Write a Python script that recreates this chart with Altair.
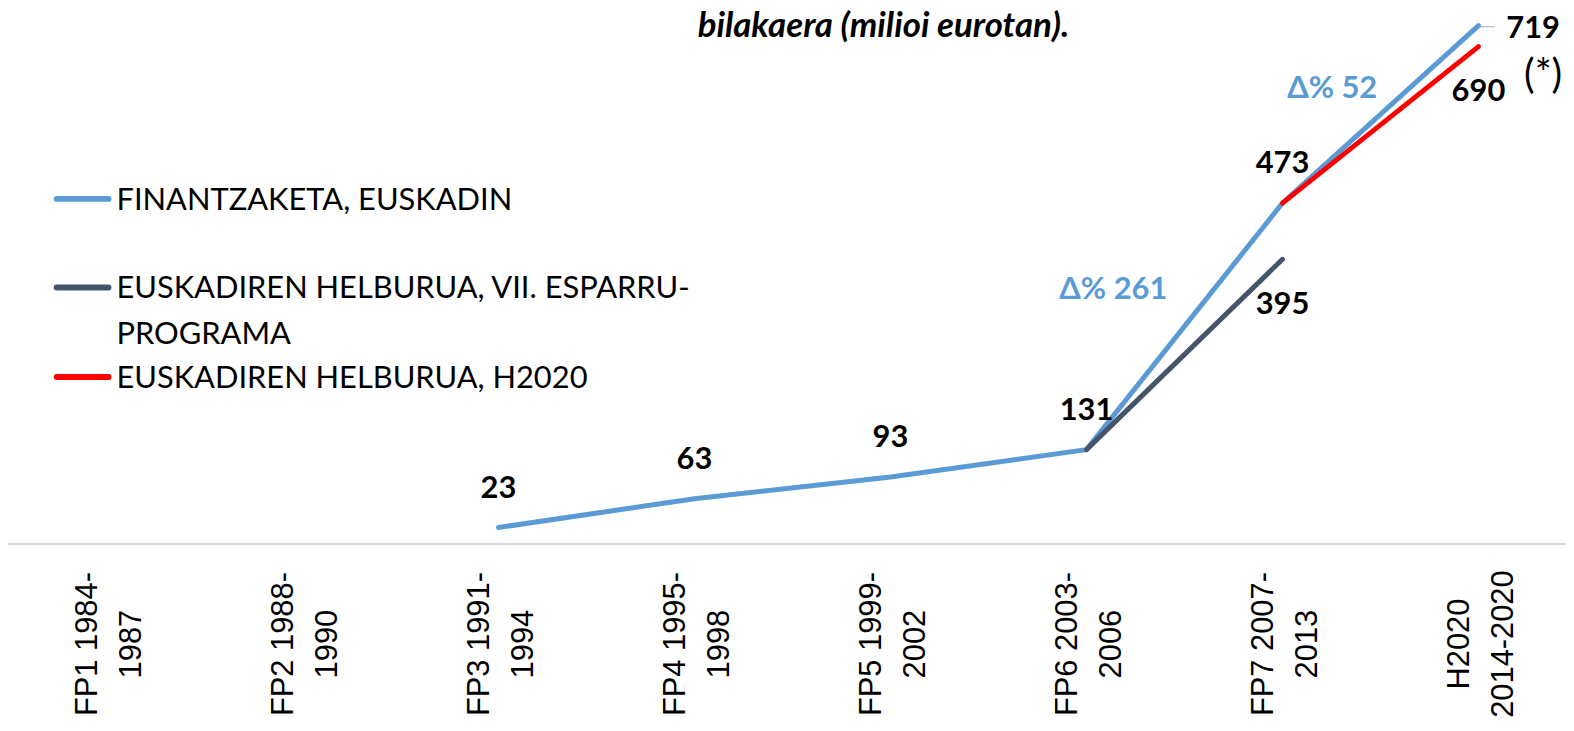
import altair as alt
import pandas as pd

# ---------------- data ----------------
categories = [
    "FP1 1984-|1987",
    "FP2 1988-|1990",
    "FP3 1991-|1994",
    "FP4 1995-|1998",
    "FP5 1999-|2002",
    "FP6 2003-|2006",
    "FP7 2007-|2013",
    "H2020|2014-2020",
]
funding = [None, None, 23, 63, 93, 131, 473, 719]          # FINANTZAKETA, EUSKADIN
target_fp7 = [None, None, None, None, None, 131, 395, None]  # helburua VII. esparru-programa
target_h2020 = [None, None, None, None, None, None, 473, 690]  # helburua H2020

series_names = [
    "FINANTZAKETA, EUSKADIN",
    "EUSKADIREN HELBURUA, VII. ESPARRU-PROGRAMA",
    "EUSKADIREN HELBURUA, H2020",
]
legend_lines = [
    ["FINANTZAKETA, EUSKADIN"],
    ["EUSKADIREN HELBURUA, VII. ESPARRU-", "PROGRAMA"],
    ["EUSKADIREN HELBURUA, H2020"],
]
colors = ["#5B9BD5", "#44546A", "#FF0000"]

title_text = "bilakaera (milioi eurotan)."
delta_labels = ["Δ% 261", "Δ% 52"]
note_text = "(*)"

# ---------------- helpers ----------------
W, H = 1566, 537
xscale = alt.Scale(type="point", domain=categories, range=[99, 1478], padding=0)
yscale = alt.Scale(domain=[0, 741], nice=False, zero=True)

xaxis = alt.Axis(
    title=None, domain=False, ticks=False, tickSize=0, grid=False,
    labelAngle=270, labelAlign="center", labelBaseline="middle",
    labelPadding=100, labelOffset=-19, labelFont="Liberation Sans", labelFontSize=31,
    labelColor="black", labelLineHeight=44, labelOverlap=False,
    labelExpr="split(datum.label, '|')",
)


def X():
    return alt.X("cat:N", sort=categories, scale=xscale, axis=xaxis)


def Y():
    return alt.Y("value:Q", scale=yscale, axis=None)


def series_df(vals, name):
    rows = [
        {"cat": c, "value": v, "idx": i, "series": name}
        for i, (c, v) in enumerate(zip(categories, vals)) if v is not None
    ]
    return pd.DataFrame(rows)


df_fund = series_df(funding, series_names[0])
df_fp7 = series_df(target_fp7, series_names[1])
df_h20 = series_df(target_h2020, series_names[2])

layers = []

# baseline (zero line)
base_df = pd.DataFrame({"value": [0]})
layers.append(
    alt.Chart(base_df).mark_rule(color="#d9d9d9", strokeWidth=2).encode(
        y=Y(), x=alt.value(0), x2=alt.value(W)
    )
)

# lines
for d, col in zip([df_fund, df_fp7, df_h20], colors):
    layers.append(
        alt.Chart(d).mark_line(
            color=col, strokeWidth=5, strokeCap="round", strokeJoin="round"
        ).encode(x=X(), y=Y(), order="idx:Q")
    )

num_style = dict(font="Lato", fontSize=31, fontWeight="bold", color="black",
                 align="center", baseline="middle")

# labels above the funding line (all but the last point)
above_df = df_fund.iloc[:-1].copy()
above_df["label"] = above_df["value"].astype(int).astype(str)
layers.append(
    alt.Chart(above_df).mark_text(dy=-39, **num_style).encode(
        x=X(), y=Y(), text="label:N"
    )
)

# labels below the target-line end points
below_df = pd.concat([df_fp7.iloc[[-1]], df_h20.iloc[[-1]]])
below_df["label"] = below_df["value"].astype(int).astype(str)
layers.append(
    alt.Chart(below_df).mark_text(dy=46, **num_style).encode(
        x=X(), y=Y(), text="label:N"
    )
)

# last funding label to the right
right_df = df_fund.iloc[[-1]].copy()
right_df["label"] = right_df["value"].astype(int).astype(str)
layers.append(
    alt.Chart(right_df).mark_text(dx=55, dy=3, **num_style).encode(
        x=X(), y=Y(), text="label:N"
    )
)

# small leader line next to 719
layers.append(
    alt.Chart(base_df).mark_rule(color="#a6a6a6", strokeWidth=1).encode(
        x=alt.value(1479), x2=alt.value(1494), y=alt.value(17)
    )
)

# delta annotations
for txt, (px, py) in zip(delta_labels, [(1111, 282), (1331, 80)]):
    layers.append(
        alt.Chart(base_df).mark_text(
            font="Lato", fontSize=31, fontWeight="bold", color="#5B9BD5",
            align="center", baseline="middle"
        ).encode(x=alt.value(px), y=alt.value(py), text=alt.value(txt))
    )

# (*) note
layers.append(
    alt.Chart(base_df).mark_text(
        font="Lato", fontSize=40, color="black", align="center", baseline="middle"
    ).encode(x=alt.value(1543), y=alt.value(67), text=alt.value(note_text))
)

# title (partially visible second line)
layers.append(
    alt.Chart(base_df).mark_text(
        font="Lato", fontSize=35, fontWeight="bold", fontStyle="italic",
        color="black", align="center", baseline="alphabetic"
    ).encode(x=alt.value(880), y=alt.value(27), text=alt.value(title_text))
)

# manual legend
legend_y = [190, 279, 369]
for lines, col, ly in zip(legend_lines, colors, legend_y):
    layers.append(
        alt.Chart(base_df).mark_rule(color=col, strokeWidth=6, strokeCap="round").encode(
            x=alt.value(49), x2=alt.value(101), y=alt.value(ly)
        )
    )
    layers.append(
        alt.Chart(base_df).mark_text(
            font="Lato", fontSize=31, color="black", align="left",
            baseline="alphabetic", lineHeight=46
        ).encode(
            x=alt.value(109), y=alt.value(ly + 11),
            text=alt.value(lines if len(lines) > 1 else lines[0])
        )
    )

chart = alt.layer(*layers).properties(
    width=W, height=H,
    padding={"left": 0, "top": 0, "right": 0, "bottom": 186},
    autosize=alt.AutoSizeParams(type="none"),
    background="white",
).configure_view(strokeWidth=0, stroke=None)

chart.save("out.html", embed_options={"renderer": "svg", "actions": False})
